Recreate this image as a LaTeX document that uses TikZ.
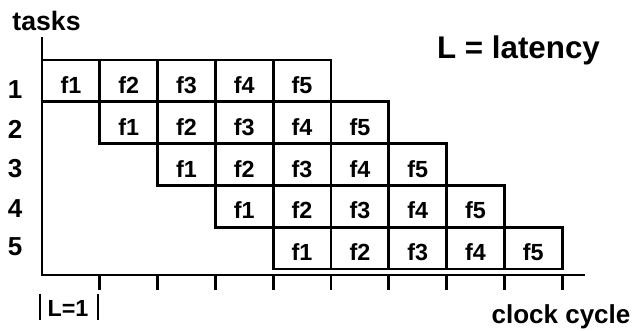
\documentclass[tikz,border=0pt]{standalone}
\usepackage{fontspec}
\setmainfont{Liberation Sans}
\begin{document}
\begin{tikzpicture}[x=0.75pt,y=-0.75pt,line width=2pt,
  cell/.style={draw,minimum width=43.35pt,minimum height=31.35pt,inner sep=0pt,outer sep=0pt,anchor=north west,font=\fontsize{17.5}{17.5}\selectfont\bfseries},
  lbl/.style={inner sep=0pt,font=\fontsize{19.5}{19.5}\selectfont\bfseries},
  big/.style={inner sep=0pt,font=\fontsize{23.5}{23.5}\selectfont\bfseries}]
\useasboundingbox (0,0) rectangle (636,331);
\foreach \r in {1,...,5}{
  \foreach \k in {1,...,5}{
    \pgfmathsetmacro\xx{42+57.8*(\r+\k-2)}
    \pgfmathsetmacro\yy{60+41.8*(\r-1)}
    \node[cell] (c\r\k) at (\xx,\yy) {\raisebox{-3.5pt}[12pt][0pt]{f\k}};
  }
}
\coordinate (O) at (42,275);
\coordinate (ytop) at (42,37);
\coordinate (xend) at (585,275);
\draw (ytop) -- (O) -- (xend);
\foreach \j in {1,...,9}{
  \draw (42+57.8*\j,275) -- (42+57.8*\j,290);
}
\node[lbl,font=\fontsize{20}{20}\selectfont\bfseries] (tasks) at (46.5,21) {tasks};
\node[lbl] (r1) at (15,90) {1};
\node[lbl] (r2) at (15,129) {2};
\node[lbl] (r3) at (15,169) {3};
\node[lbl] (r4) at (15,209) {4};
\node[lbl] (r5) at (15,247) {5};
\node[big] (lat) at (518.5,50) {L = latency};
\node[lbl] (cc) at (561,317) {clock cycle};
\node[lbl,font=\fontsize{17.5}{17.5}\selectfont\bfseries] (l1) at (68,308) {L=1};
\coordinate (b1a) at (40,294); \coordinate (b1b) at (40,320);
\coordinate (b2a) at (98,294); \coordinate (b2b) at (98,320);
\draw (b1a) -- (b1b);
\draw (b2a) -- (b2b);
\end{tikzpicture}
\end{document}
